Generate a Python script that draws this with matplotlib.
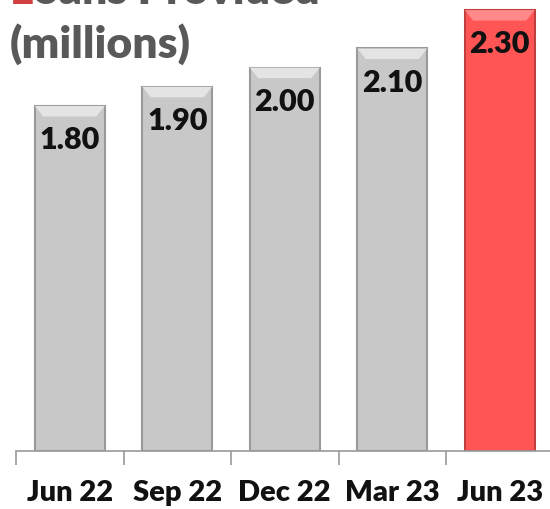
import matplotlib.pyplot as plt
import numpy as np
from matplotlib.patches import Polygon

plt.rcParams['font.family'] = ['Lato', 'DejaVu Sans']

quarters = ['Jun 22', 'Sep 22', 'Dec 22', 'Mar 23', 'Jun 23']
values = [1.80, 1.90, 2.00, 2.10, 2.30]
highlight = 'Jun 23'

grey_face, grey_edge, grey_light = '#c8c8c8', '#9a9a9a', '#e4e4e4'
red_face, red_edge, red_light = '#ff5555', '#c04040', '#ff8888'

fig = plt.figure(figsize=(5.5, 5.1), dpi=100)
ax = fig.add_axes([16 / 550, 58 / 510, 537.5 / 550, 452 / 510])

x = np.arange(len(quarters))
colors = [red_face if q == highlight else grey_face for q in quarters]
edges = [red_edge if q == highlight else grey_edge for q in quarters]
lights = [red_light if q == highlight else grey_light for q in quarters]
bars = ax.bar(x, values, width=0.65, color=colors, edgecolor=edges, linewidth=1.5, zorder=2)

# bevelled top of each bar + value label
for b, lc in zip(bars, lights):
    x0, w, h = b.get_x(), b.get_width(), b.get_height()
    bev = 0.12 * w
    dy = 0.055
    ax.add_patch(Polygon([[x0, h], [x0 + w, h], [x0 + w - bev, h - dy], [x0 + bev, h - dy]],
                         closed=True, facecolor=lc, edgecolor='none', zorder=3))
    ax.text(x0 + w / 2, h - 0.1, f'{h:.2f}', ha='center', va='top',
            fontsize=22, fontweight='heavy', color='#111111', zorder=4)

ax.set_xlim(-0.5, len(quarters) - 0.5)
ax.set_ylim(0, 2.358)
for s in ['top', 'right', 'left']:
    ax.spines[s].set_visible(False)
ax.spines['bottom'].set_color('#999999')
ax.spines['bottom'].set_linewidth(1.2)
ax.set_yticks([])
ax.set_xticks(x)
ax.set_xticklabels(quarters, fontsize=21, fontweight='heavy', color='#111111')
ax.set_xticks(np.arange(len(quarters)) - 0.5, minor=True)
ax.tick_params(axis='x', which='major', length=0, pad=20)
ax.tick_params(axis='x', which='minor', length=10, width=1.2, color='#999999')

# title: first line is partly cut off at the top edge, as in the original
t1 = fig.text(10 / 550, 1 - 4 / 510, 'L', fontsize=32, fontweight='heavy',
              color='#d04040', va='baseline', ha='left')
ax.annotate('oans Provided', xy=(1, 0), xycoords=t1, va='bottom', ha='left',
            fontsize=32, fontweight='heavy', color='#595959', annotation_clip=False)
fig.text(10 / 550, 1 - 58 / 510, '(millions)', fontsize=32, fontweight='heavy',
         color='#595959', va='baseline', ha='left')

fig.savefig('out.png', dpi=100)
